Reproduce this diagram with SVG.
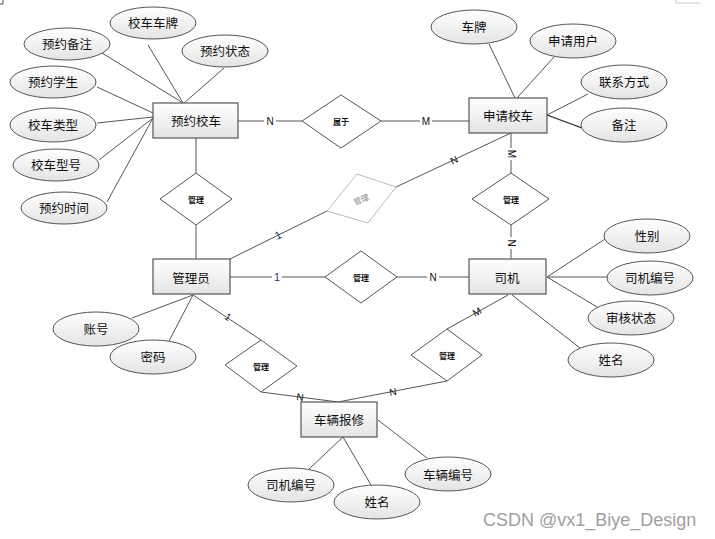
<svg xmlns="http://www.w3.org/2000/svg" width="715" height="539" viewBox="0 0 715 539">
<defs>
<linearGradient id="g" x1="0" y1="0" x2="0" y2="1"><stop offset="0" stop-color="#ffffff"/><stop offset="1" stop-color="#e4e4e4"/></linearGradient>
<style>
.ent{fill:url(#g);stroke:#555;stroke-width:1.2}
.att{fill:url(#g);stroke:#555;stroke-width:1}
.rel{fill:#fff;stroke:#555;stroke-width:1}
.rel2{fill:#fff;stroke:#bbb;stroke-width:1}
.ln{stroke:#555;stroke-width:1;fill:none}
.t{font-family:"Noto Sans CJK SC","Noto Sans",sans-serif;font-size:12.5px;fill:#111;text-anchor:middle;dominant-baseline:central}
.tr{font-family:"Noto Sans CJK SC","Noto Sans",sans-serif;font-size:8px;font-weight:bold;fill:#111;text-anchor:middle;dominant-baseline:central}
.lb{font-family:"Liberation Sans",Arial,sans-serif;font-size:10px;fill:#111;text-anchor:middle;dominant-baseline:central}
.lb1{font-family:"Liberation Sans",Arial,sans-serif;font-size:11px;fill:#1f3a78;text-anchor:middle;dominant-baseline:central}
</style>
</defs>
<rect width="715" height="539" fill="#fff"/>
<path d="M0,4 L3,4 L3,0" class="ln" stroke="#bbb"/>
<path d="M676,0 L676,3 L700,3" fill="none" stroke="#ccc"/>
<g id="connectors">
<line class="ln" x1="102" y1="53" x2="183" y2="103"/>
<line class="ln" x1="148" y1="45" x2="183" y2="103"/>
<line class="ln" x1="224" y1="68" x2="184" y2="103"/>
<line class="ln" x1="97" y1="87" x2="153" y2="113"/>
<line class="ln" x1="97" y1="123" x2="153" y2="117"/>
<line class="ln" x1="99" y1="160" x2="153" y2="118"/>
<line class="ln" x1="107" y1="202" x2="153" y2="118"/>
<line class="ln" x1="489" y1="44" x2="515" y2="98"/>
<line class="ln" x1="554" y1="57" x2="517" y2="98"/>
<line class="ln" x1="588" y1="94" x2="547" y2="115"/>
<line x1="582" y1="128" x2="547" y2="115" stroke="#222" stroke-width="1.3"/>
<line class="ln" x1="605" y1="239" x2="547" y2="277"/>
<line class="ln" x1="607" y1="277" x2="547" y2="277"/>
<line class="ln" x1="597" y1="307" x2="547" y2="277"/>
<line class="ln" x1="580" y1="348" x2="512" y2="295"/>
<line class="ln" x1="132" y1="318" x2="193" y2="295"/>
<line class="ln" x1="169" y1="341" x2="193" y2="295"/>
<line class="ln" x1="309" y1="469" x2="343" y2="437"/>
<line class="ln" x1="371" y1="485" x2="343" y2="437"/>
<line class="ln" x1="378" y1="420" x2="427" y2="458"/>
<line class="ln" x1="238" y1="121" x2="302" y2="121"/>
<line class="ln" x1="381" y1="121" x2="469" y2="121"/>
<line class="ln" x1="196" y1="138" x2="196" y2="173"/>
<line class="ln" x1="196" y1="225" x2="196" y2="259"/>
<line class="ln" x1="230" y1="259" x2="327" y2="211"/>
<line class="ln" x1="396" y1="187" x2="511" y2="133"/>
<line class="ln" x1="511" y1="133" x2="511" y2="173"/>
<line class="ln" x1="511" y1="225" x2="511" y2="259"/>
<line class="ln" x1="230" y1="277" x2="325" y2="277"/>
<line class="ln" x1="397" y1="277" x2="469" y2="277"/>
<line class="ln" x1="193" y1="295" x2="261" y2="340"/>
<line class="ln" x1="261" y1="392" x2="338" y2="402"/>
<line class="ln" x1="338" y1="402" x2="447" y2="381"/>
<line class="ln" x1="447" y1="329" x2="508" y2="295"/>
<g>
<rect x="264" y="114" width="12" height="14" fill="#fff"/><text class="lb" x="270" y="121">N</text>
<rect x="420" y="114" width="12" height="14" fill="#fff"/><text class="lb" x="426" y="121">M</text>
<text class="lb1" x="278" y="235" transform="rotate(-26 278 235)">1</text>
<text class="lb" x="454" y="160" transform="rotate(-25 454 160)">N</text>
<rect x="505" y="148" width="12" height="12" fill="#fff"/><text class="lb" x="511" y="154" transform="rotate(90 511 154)">M</text>
<rect x="505" y="237" width="12" height="12" fill="#fff"/><text class="lb" x="511" y="243" transform="rotate(90 511 243)">N</text>
<rect x="272" y="270" width="10" height="14" fill="#fff"/><text class="lb1" x="277" y="277">1</text>
<rect x="427" y="270" width="12" height="14" fill="#fff"/><text class="lb" x="433" y="277">N</text>
<text class="lb" x="228" y="317" font-size="8" transform="rotate(34 228 317)">1</text>
<text class="lb" x="300" y="397" font-size="8" transform="rotate(8 300 397)">N</text>
<text class="lb" x="393" y="392" font-size="8" transform="rotate(-10 393 392)">N</text>
<text class="lb" x="477" y="312" font-size="8" transform="rotate(-29 477 312)">M</text>
</g>
</g>
<g id="e_yuyue"><rect class="ent" x="153" y="103" width="85" height="35"/><text class="t" x="196" y="120">预约校车</text></g>
<g id="e_shenqing"><rect class="ent" x="469" y="98" width="78" height="35"/><text class="t" x="508" y="115">申请校车</text></g>
<g id="e_admin"><rect class="ent" x="153" y="259" width="77" height="35"/><text class="t" x="191" y="277">管理员</text></g>
<g id="e_siji"><rect class="ent" x="469" y="259" width="77" height="35"/><text class="t" x="507" y="277">司机</text></g>
<g id="e_baoxiu"><rect class="ent" x="301" y="402" width="76" height="35"/><text class="t" x="339" y="419">车辆报修</text></g>
<g id="r_shuyu"><polygon class="rel" points="341,95 381,121 341,148 302,121"/><text class="tr" x="341" y="121">属于</text></g>
<g id="r_guanli1"><polygon class="rel" points="196,173 232,199 196,225 160,199"/><text class="tr" x="196" y="199">管理</text></g>
<g id="r_guanli_gray"><polygon class="rel2" points="357,174 396,187 368,223 327,211"/><text class="tr" x="361" y="199" style="fill:#888;font-weight:normal" transform="rotate(-22 361 199)">管理</text></g>
<g id="r_guanli2"><polygon class="rel" points="511,173 549,199 511,225 472,199"/><text class="tr" x="511" y="199">管理</text></g>
<g id="r_guanli3"><polygon class="rel" points="361,251 397,277 361,303 325,277"/><text class="tr" x="361" y="277">管理</text></g>
<g id="r_guanli4"><polygon class="rel" points="261,340 297,366 261,392 225,365"/><text class="tr" x="261" y="366">管理</text></g>
<g id="r_guanli5"><polygon class="rel" points="447,329 482,355 447,381 411,355"/><text class="tr" x="447" y="355">管理</text></g>
<g id="a1"><ellipse class="att" cx="67" cy="44" rx="43" ry="16"/><text class="t" x="67" y="43">预约备注</text></g>
<g id="a2"><ellipse class="att" cx="153" cy="23" rx="43" ry="16"/><text class="t" x="153" y="22">校车车牌</text></g>
<g id="a3"><ellipse class="att" cx="225" cy="51" rx="43" ry="16"/><text class="t" x="225" y="50">预约状态</text></g>
<g id="a4"><ellipse class="att" cx="53" cy="82" rx="43" ry="16"/><text class="t" x="53" y="81">预约学生</text></g>
<g id="a5"><ellipse class="att" cx="53" cy="125" rx="43" ry="17"/><text class="t" x="53" y="124">校车类型</text></g>
<g id="a6"><ellipse class="att" cx="56" cy="165" rx="43" ry="16"/><text class="t" x="56" y="164">校车型号</text></g>
<g id="a7"><ellipse class="att" cx="64" cy="208" rx="43" ry="16"/><text class="t" x="64" y="207">预约时间</text></g>
<g id="a8"><ellipse class="att" cx="474" cy="27" rx="43" ry="17"/><text class="t" x="474" y="26">车牌</text></g>
<g id="a9"><ellipse class="att" cx="573" cy="41" rx="43" ry="17"/><text class="t" x="573" y="40">申请用户</text></g>
<g id="a10"><ellipse class="att" cx="624" cy="82" rx="43" ry="17"/><text class="t" x="624" y="81">联系方式</text></g>
<g id="a11"><ellipse class="att" cx="624" cy="125" rx="43" ry="17"/><text class="t" x="624" y="124">备注</text></g>
<g id="a12"><ellipse class="att" cx="647" cy="236" rx="43" ry="17"/><text class="t" x="647" y="235">性别</text></g>
<g id="a13"><ellipse class="att" cx="650" cy="278" rx="43" ry="17"/><text class="t" x="650" y="277">司机编号</text></g>
<g id="a14"><ellipse class="att" cx="631" cy="318" rx="43" ry="17"/><text class="t" x="631" y="317">审核状态</text></g>
<g id="a15"><ellipse class="att" cx="611" cy="360" rx="43" ry="17"/><text class="t" x="611" y="359">姓名</text></g>
<g id="a16"><ellipse class="att" cx="96" cy="329" rx="43" ry="17"/><text class="t" x="96" y="328">账号</text></g>
<g id="a17"><ellipse class="att" cx="153" cy="357" rx="43" ry="17"/><text class="t" x="153" y="356">密码</text></g>
<g id="a18"><ellipse class="att" cx="291" cy="485" rx="43" ry="17"/><text class="t" x="291" y="484">司机编号</text></g>
<g id="a19"><ellipse class="att" cx="377" cy="502" rx="43" ry="17"/><text class="t" x="377" y="501">姓名</text></g>
<g id="a20"><ellipse class="att" cx="448" cy="474" rx="43" ry="17"/><text class="t" x="448" y="474">车辆编号</text></g>
<text x="483" y="526" font-family="Liberation Sans,Arial,sans-serif" font-size="18" fill="#a0a0a0">CSDN @vx1_Biye_Design</text>
</svg>
